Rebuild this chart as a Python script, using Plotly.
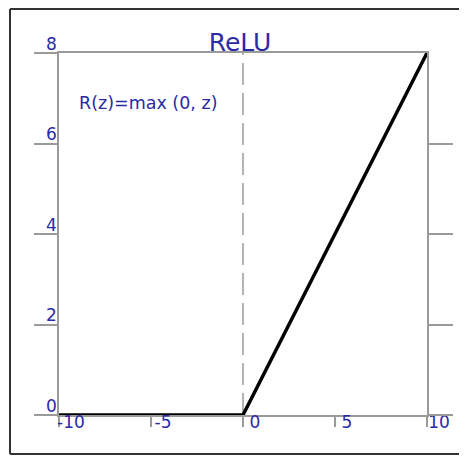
import plotly.graph_objects as go

z_values = [-10, 0, 10]
relu_values = [0, 0, 8]
x_ticks = [-10, -5, 0, 5, 10]
y_ticks = [0, 2, 4, 6, 8]
right_ticks = [0, 2, 4, 6]
title_text = "ReLU"
formula_text = "R(z)=max (0, z)"

BLUE = "#2a2aa6"
GRAY = "#9a9a9a"
FONT = "DejaVu Sans, Verdana, sans-serif"

# page is rendered with an 8px body margin, so figure is sized/offset to compensate
W, H = 459, 451
L, R, T, B = 51, 40, 45, 44
PW, PH = W - L - R, H - T - B


def px(fx):
    return (fx - L) / PW


def py(fy):
    return (H - B - fy) / PH


fig = go.Figure()
fig.add_trace(go.Scatter(x=z_values, y=relu_values, mode="lines",
                         line=dict(color="black", width=3.5), showlegend=False))
# invisible trace to activate right axis
fig.add_trace(go.Scatter(x=z_values, y=relu_values, mode="lines", yaxis="y2",
                         line=dict(color="rgba(0,0,0,0)", width=0), showlegend=False,
                         hoverinfo="skip"))

fig.add_vline(x=0, line=dict(color=GRAY, width=1.5, dash="22px,8px"), layer="below")

fig.update_layout(
    width=W, height=H, autosize=False,
    margin=dict(l=L, r=R, t=T, b=B, autoexpand=False),
    paper_bgcolor="white", plot_bgcolor="white",
    font=dict(family=FONT, color=BLUE, size=17),
    title=dict(text=title_text, x=232 / W, xanchor="center", xref="container",
               y=1 - 34.5 / H, yanchor="middle", yref="container",
               font=dict(family=FONT, size=25, color=BLUE)),
    xaxis=dict(range=[-10, 10], tickvals=x_ticks, ticktext=[str(v) for v in x_ticks],
               showgrid=False, zeroline=False, showline=True, mirror=True,
               linecolor=GRAY, linewidth=1.5, ticks="outside", ticklen=10,
               tickcolor=GRAY, tickwidth=1.5, automargin=False,
               ticklabelshift=12, ticklabelstandoff=-19,
               tickfont=dict(family=FONT, size=17, color=BLUE)),
    yaxis=dict(range=[0, 8], tickvals=y_ticks, ticktext=[str(v) for v in y_ticks],
               showgrid=False, zeroline=False, showline=True,
               linecolor=GRAY, linewidth=1.5, ticks="outside", ticklen=23,
               tickcolor=GRAY, tickwidth=1.5, automargin=False,
               ticklabelshift=-9, ticklabelstandoff=-26,
               tickfont=dict(family=FONT, size=17, color=BLUE)),
    yaxis2=dict(range=[0, 8], overlaying="y", side="right", tickvals=right_ticks,
                showticklabels=False, showgrid=False, zeroline=False, showline=True,
                linecolor=GRAY, linewidth=1.5, ticks="outside", ticklen=24,
                tickcolor=GRAY, tickwidth=1.5, automargin=False),
)

fig.add_annotation(text=formula_text, xref="paper", yref="paper",
                   x=px(69), y=py(95.5),
                   xanchor="left", yanchor="middle", showarrow=False,
                   font=dict(family=FONT, size=17.5, color=BLUE))

# outer frame of the image
frame = dict(color="#333333", width=2)
fig.add_shape(type="line", xref="paper", yref="paper",
              x0=px(2), x1=px(W), y0=py(1), y1=py(1), line=frame)
fig.add_shape(type="line", xref="paper", yref="paper",
              x0=px(2), x1=px(W), y0=py(446), y1=py(446), line=frame)
fig.add_shape(type="line", xref="paper", yref="paper",
              x0=px(2), x1=px(2), y0=py(1), y1=py(446), line=frame)
fig.add_shape(type="line", xref="paper", yref="paper",
              x0=px(457), x1=px(457), y0=py(1), y1=py(446),
              line=dict(color="#cccccc", width=1))

fig.write_html("out.html")
